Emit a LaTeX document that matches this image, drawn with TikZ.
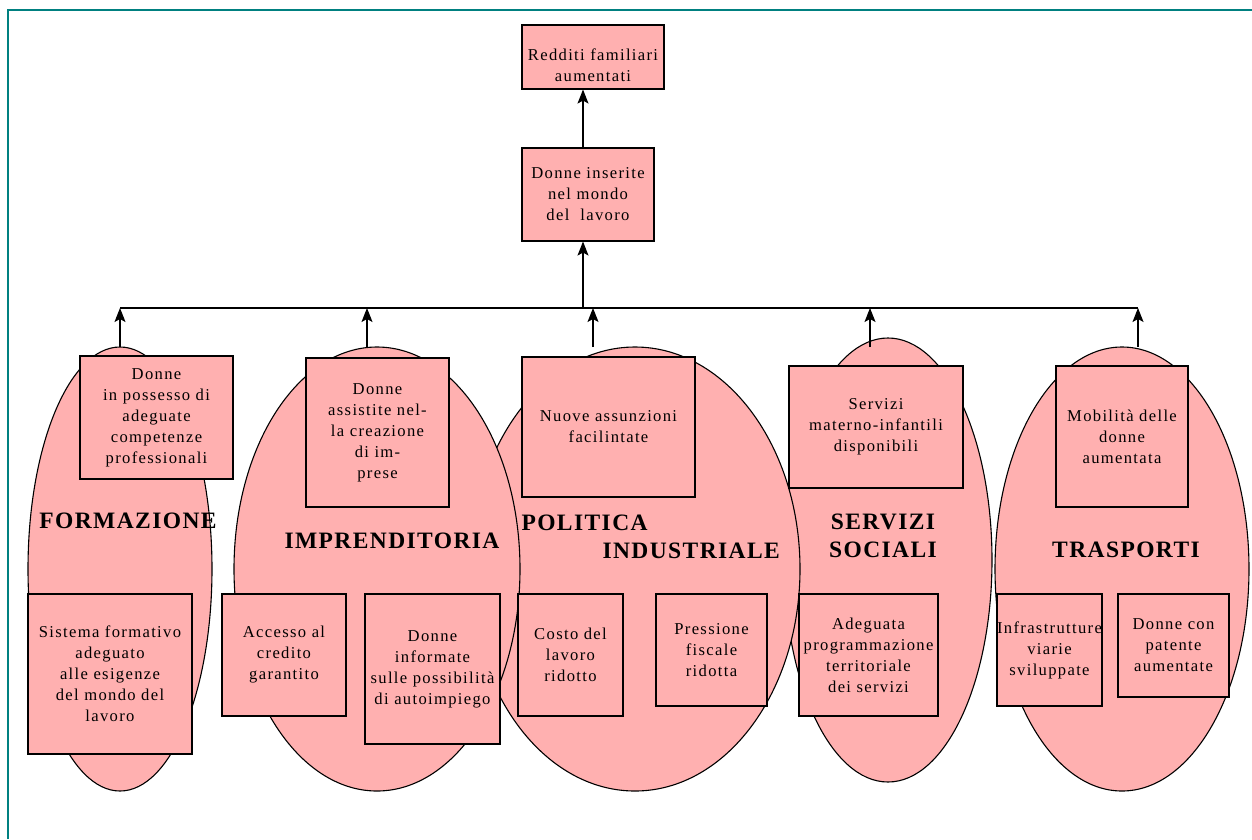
\documentclass[tikz,border=0pt]{standalone}
\usepackage{fontspec}
\setmainfont{Liberation Serif}
\newfontfamily\boxfont{Liberation Serif}[LetterSpace=8]
\newfontfamily\labfont{Liberation Serif}[LetterSpace=6]
\usetikzlibrary{shapes.geometric,arrows.meta}
\definecolor{rosa}{RGB}{255,176,176}
\definecolor{bordo}{RGB}{0,128,128}

\begin{document}
\begin{tikzpicture}[x=1pt, y=-1pt, line width=1.1pt,
  oval/.style={draw, fill=rosa, ellipse, inner sep=0pt, minimum height=444pt},
  box/.style={draw, fill=rosa, inner sep=0pt, align=center,
    font=\boxfont\fontsize{16.6}{21}\selectfont},
  lab/.style={inner sep=0pt, font=\labfont\bfseries\fontsize{23.5}{28}\selectfont},
  arr/.style={-{Stealth[length=14pt,width=11pt,inset=3pt]}}]
\useasboundingbox (0,0) rectangle (1252,839);

% the five areas
\node[oval, minimum width=208pt] (servizi) at (888,560) {};
\node[oval, minimum width=330pt] (politica) at (635,569) {};
\node[oval, minimum width=286pt] (impren) at (377,569) {};
\node[oval, minimum width=184pt] (formazione) at (120,569) {};
\node[oval, minimum width=254pt] (trasporti) at (1122,569) {};

% objectives
\node[box, text width=142pt, minimum height=64pt] (redditi) at (593,57) {\rule{0pt}{28pt}Redditi familiari\\aumentati};
\node[box, text width=132pt, minimum height=93pt] (inserite) at (588,194.5) {Donne inserite\\nel mondo\\del~ lavoro};

\node[box, text width=153pt, minimum height=123pt] (f1) at (156.5,417.5) {Donne\\in possesso di\\adeguate\\competenze\\professionali};
\node[box, text width=164pt, minimum height=160pt] (f2) at (110,674) {Sistema formativo\\adeguato\\alle esigenze\\del mondo del\\lavoro};

\node[box, text width=143pt, minimum height=149pt] (i1) at (377.5,432.5) {Donne\\assistite nel-\\la creazione\\di im-\\prese};
\node[box, text width=124pt, minimum height=122pt] (i2) at (284,655) {Accesso al\\credito\\garantito};
\node[box, text width=135pt, minimum height=150pt] (i3) at (432.5,669) {Donne\\informate\\sulle possibilità\\di autoimpiego};

\node[box, text width=173pt, minimum height=140pt] (p1) at (608.5,427) {Nuove assunzioni\\facilintate};
\node[box, text width=105pt, minimum height=122pt] (p2) at (570.5,655) {Costo del\\lavoro\\ridotto};
\node[box, text width=111pt, minimum height=112pt] (p3) at (711.5,650) {Pressione\\fiscale\\ridotta};

\node[box, text width=174pt, minimum height=122pt] (s1) at (876,427) {Servizi\\materno-infantili\\disponibili};
\node[box, text width=139pt, minimum height=122pt] (s2) at (868.5,655) {Adeguata\\programmazione\\territoriale\\dei servizi};

\node[box, text width=132pt, minimum height=141pt] (t1) at (1122,436.5) {Mobilità delle\\donne\\aumentata};
\node[box, text width=105pt, minimum height=112pt] (t2) at (1049.5,650) {Infrastrutture\\viarie\\sviluppate};
\node[box, text width=111pt, minimum height=103pt] (t3) at (1173.5,645.5) {Donne con\\patente\\aumentate};

% area names
\node[lab] (lformazione) at (128,521) {FORMAZIONE};
\node[lab] (limpren) at (392,541) {IMPRENDITORIA};
\node[lab, align=left, anchor=west] (lpolitica) at (521,537) {POLITICA\\\hspace*{81pt}INDUSTRIALE};
\node[lab, align=center] (lservizi) at (883,536) {SERVIZI\\SOCIALI};
\node[lab] (ltrasporti) at (1126,550) {TRASPORTI};

% links
\coordinate (busL) at (120,308);
\coordinate (busR) at (1138,308);
\coordinate (busM) at (583,308);
\coordinate (u1) at (120,347);
\coordinate (u2) at (367,347);
\coordinate (u3) at (593,347);
\coordinate (u4) at (870,347);
\coordinate (u5) at (1138,347);
\draw (busL) -- (busR);
\foreach \u in {u1,u2,u3,u4,u5}
  \draw[arr] (\u) -- (\u |- busL);
\draw[arr] (busM) -- (busM |- inserite.south);
\draw[arr] (busM |- inserite.north) -- (busM |- redditi.south);

\draw[bordo, line width=2pt] (8,839) -- (8,10) -- (1252,10);
\end{tikzpicture}
\end{document}
